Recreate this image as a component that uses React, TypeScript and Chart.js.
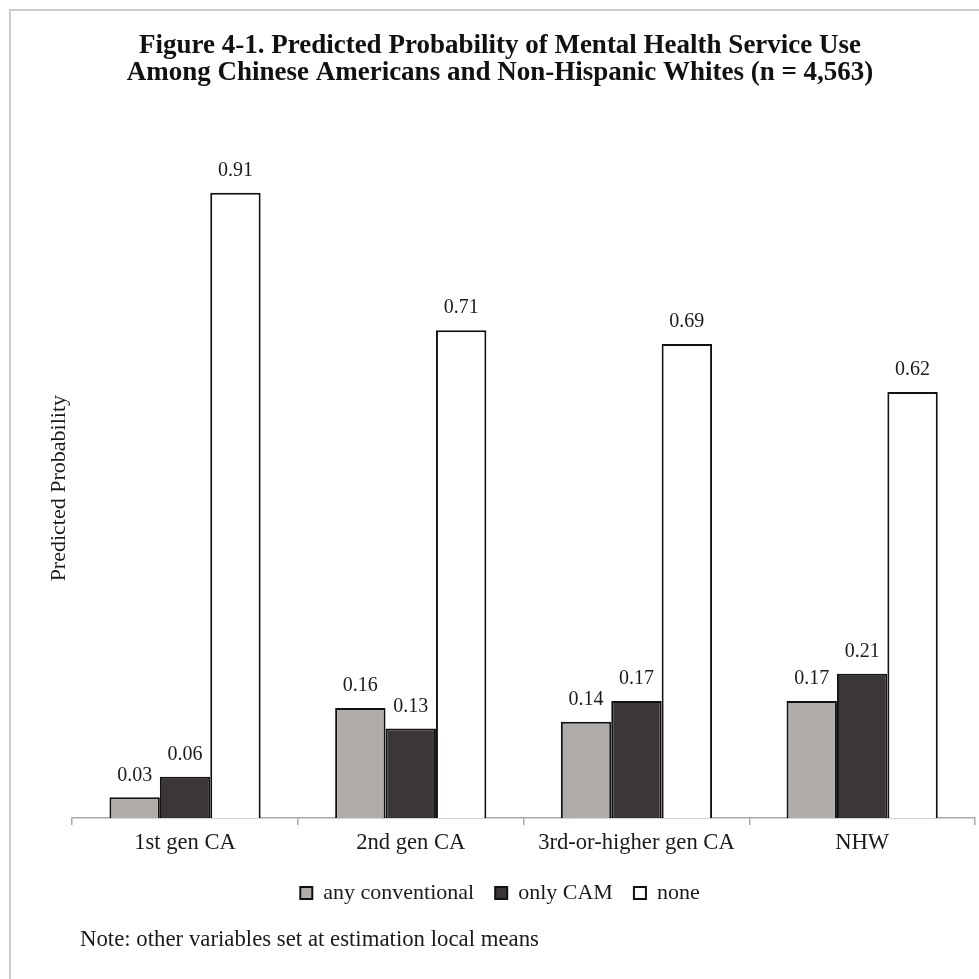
import React, { useEffect, useRef } from "react";
import { Chart, registerables } from "chart.js";

Chart.register(...registerables);

const categories = ["1st gen CA", "2nd gen CA", "3rd-or-higher gen CA", "NHW"];
const seriesNames = ["any conventional", "only CAM", "none"];
const anyConventional = [0.03, 0.16, 0.14, 0.17];
const onlyCAM = [0.06, 0.13, 0.17, 0.21];
const noneUse = [0.91, 0.71, 0.69, 0.62];
const seriesColors = ["#b0acaa", "#3b3736", "#ffffff"];
const titleLines = [
  "Figure 4-1. Predicted Probability of Mental Health Service Use",
  "Among Chinese Americans and Non-Hispanic Whites (n = 4,563)",
];
const yAxisTitle = "Predicted Probability";
const noteText = "Note: other variables set at estimation local means";

const SERIF = "'Liberation Serif', 'Times New Roman', serif";

// White page plus the light frame along the top and left edges
const framePlugin = {
  id: "frame",
  beforeDraw(chart: any) {
    const { ctx, width, height } = chart;
    ctx.save();
    ctx.fillStyle = "#ffffff";
    ctx.fillRect(0, 0, width, height);
    ctx.strokeStyle = "#cdcdcd";
    ctx.lineWidth = 2;
    ctx.beginPath();
    ctx.moveTo(10, height);
    ctx.lineTo(10, 10);
    ctx.lineTo(width, 10);
    ctx.stroke();
    ctx.restore();
  },
};

// Value labels above each bar
const valueLabelPlugin = {
  id: "valueLabels",
  afterDatasetsDraw(chart: any) {
    const { ctx } = chart;
    ctx.save();
    ctx.font = `20px ${SERIF}`;
    ctx.fillStyle = "#1a1a1a";
    ctx.textAlign = "center";
    ctx.textBaseline = "middle";
    chart.data.datasets.forEach((ds: any, di: number) => {
      const meta = chart.getDatasetMeta(di);
      meta.data.forEach((el: any, i: number) => {
        const v = ds.data[i] as number;
        ctx.fillText(v.toFixed(2), el.x, el.y - 22);
      });
    });
    ctx.restore();
  },
};

// Footnote below the legend
const notePlugin = {
  id: "note",
  afterDraw(chart: any) {
    const { ctx } = chart;
    ctx.save();
    ctx.font = `22.8px ${SERIF}`;
    ctx.fillStyle = "#1a1a1a";
    ctx.textAlign = "left";
    ctx.textBaseline = "middle";
    ctx.fillText(noteText, 80, 940);
    ctx.restore();
  },
};

export default function App() {
  const canvasRef = useRef<HTMLCanvasElement | null>(null);

  useEffect(() => {
    const canvas = canvasRef.current;
    if (!canvas) return;
    const seriesData = [anyConventional, onlyCAM, noneUse];
    const chart = new Chart(canvas, {
      type: "bar",
      data: {
        labels: categories,
        datasets: seriesNames.map((name, i) => ({
          label: name,
          data: seriesData[i],
          backgroundColor: seriesColors[i],
          borderColor: "#111111",
          borderWidth: 2,
          categoryPercentage: 0.67,
          barPercentage: 1.0,
        })),
      },
      options: {
        responsive: false,
        animation: false,
        devicePixelRatio: 1,
        layout: { padding: { top: 0, left: 25, right: 4, bottom: 65 } },
        plugins: {
          title: {
            display: true,
            text: titleLines,
            color: "#111111",
            font: { family: SERIF, size: 27, weight: "bold", lineHeight: 1 },
            padding: { top: 32.5, bottom: 72 },
          },
          legend: {
            display: true,
            position: "bottom",
            labels: {
              color: "#1a1a1a",
              font: { family: SERIF, size: 22 },
              boxWidth: 12,
              boxHeight: 12,
              padding: 21,
            },
          },
          tooltip: { enabled: false },
        },
        scales: {
          x: {
            grid: {
              display: true,
              drawOnChartArea: false,
              drawTicks: true,
              tickLength: 7,
              color: "#a8a8a8",
              lineWidth: 1.5,
              offset: true,
            },
            border: { display: true, color: "#a8a8a8", width: 1.5 },
            ticks: {
              color: "#1a1a1a",
              font: { family: SERIF, size: 22.6 },
              padding: 4.5,
              maxRotation: 0,
            },
          },
          y: {
            min: 0,
            max: 0.96,
            grid: { display: false, drawTicks: false },
            border: { display: false },
            ticks: { display: false },
            title: {
              display: true,
              text: yAxisTitle,
              color: "#1a1a1a",
              font: { family: SERIF, size: 22, lineHeight: 1.2 },
              padding: { top: 20.8, bottom: 0 },
            },
          },
        },
      },
      plugins: [framePlugin, valueLabelPlugin, notePlugin],
    });
    return () => chart.destroy();
  }, []);

  return (
    <div style={{ position: "fixed", left: 0, top: 0, width: 979, height: 979, background: "#fff" }}>
      <canvas ref={canvasRef} width={979} height={979} style={{ display: "block" }} />
    </div>
  );
}
